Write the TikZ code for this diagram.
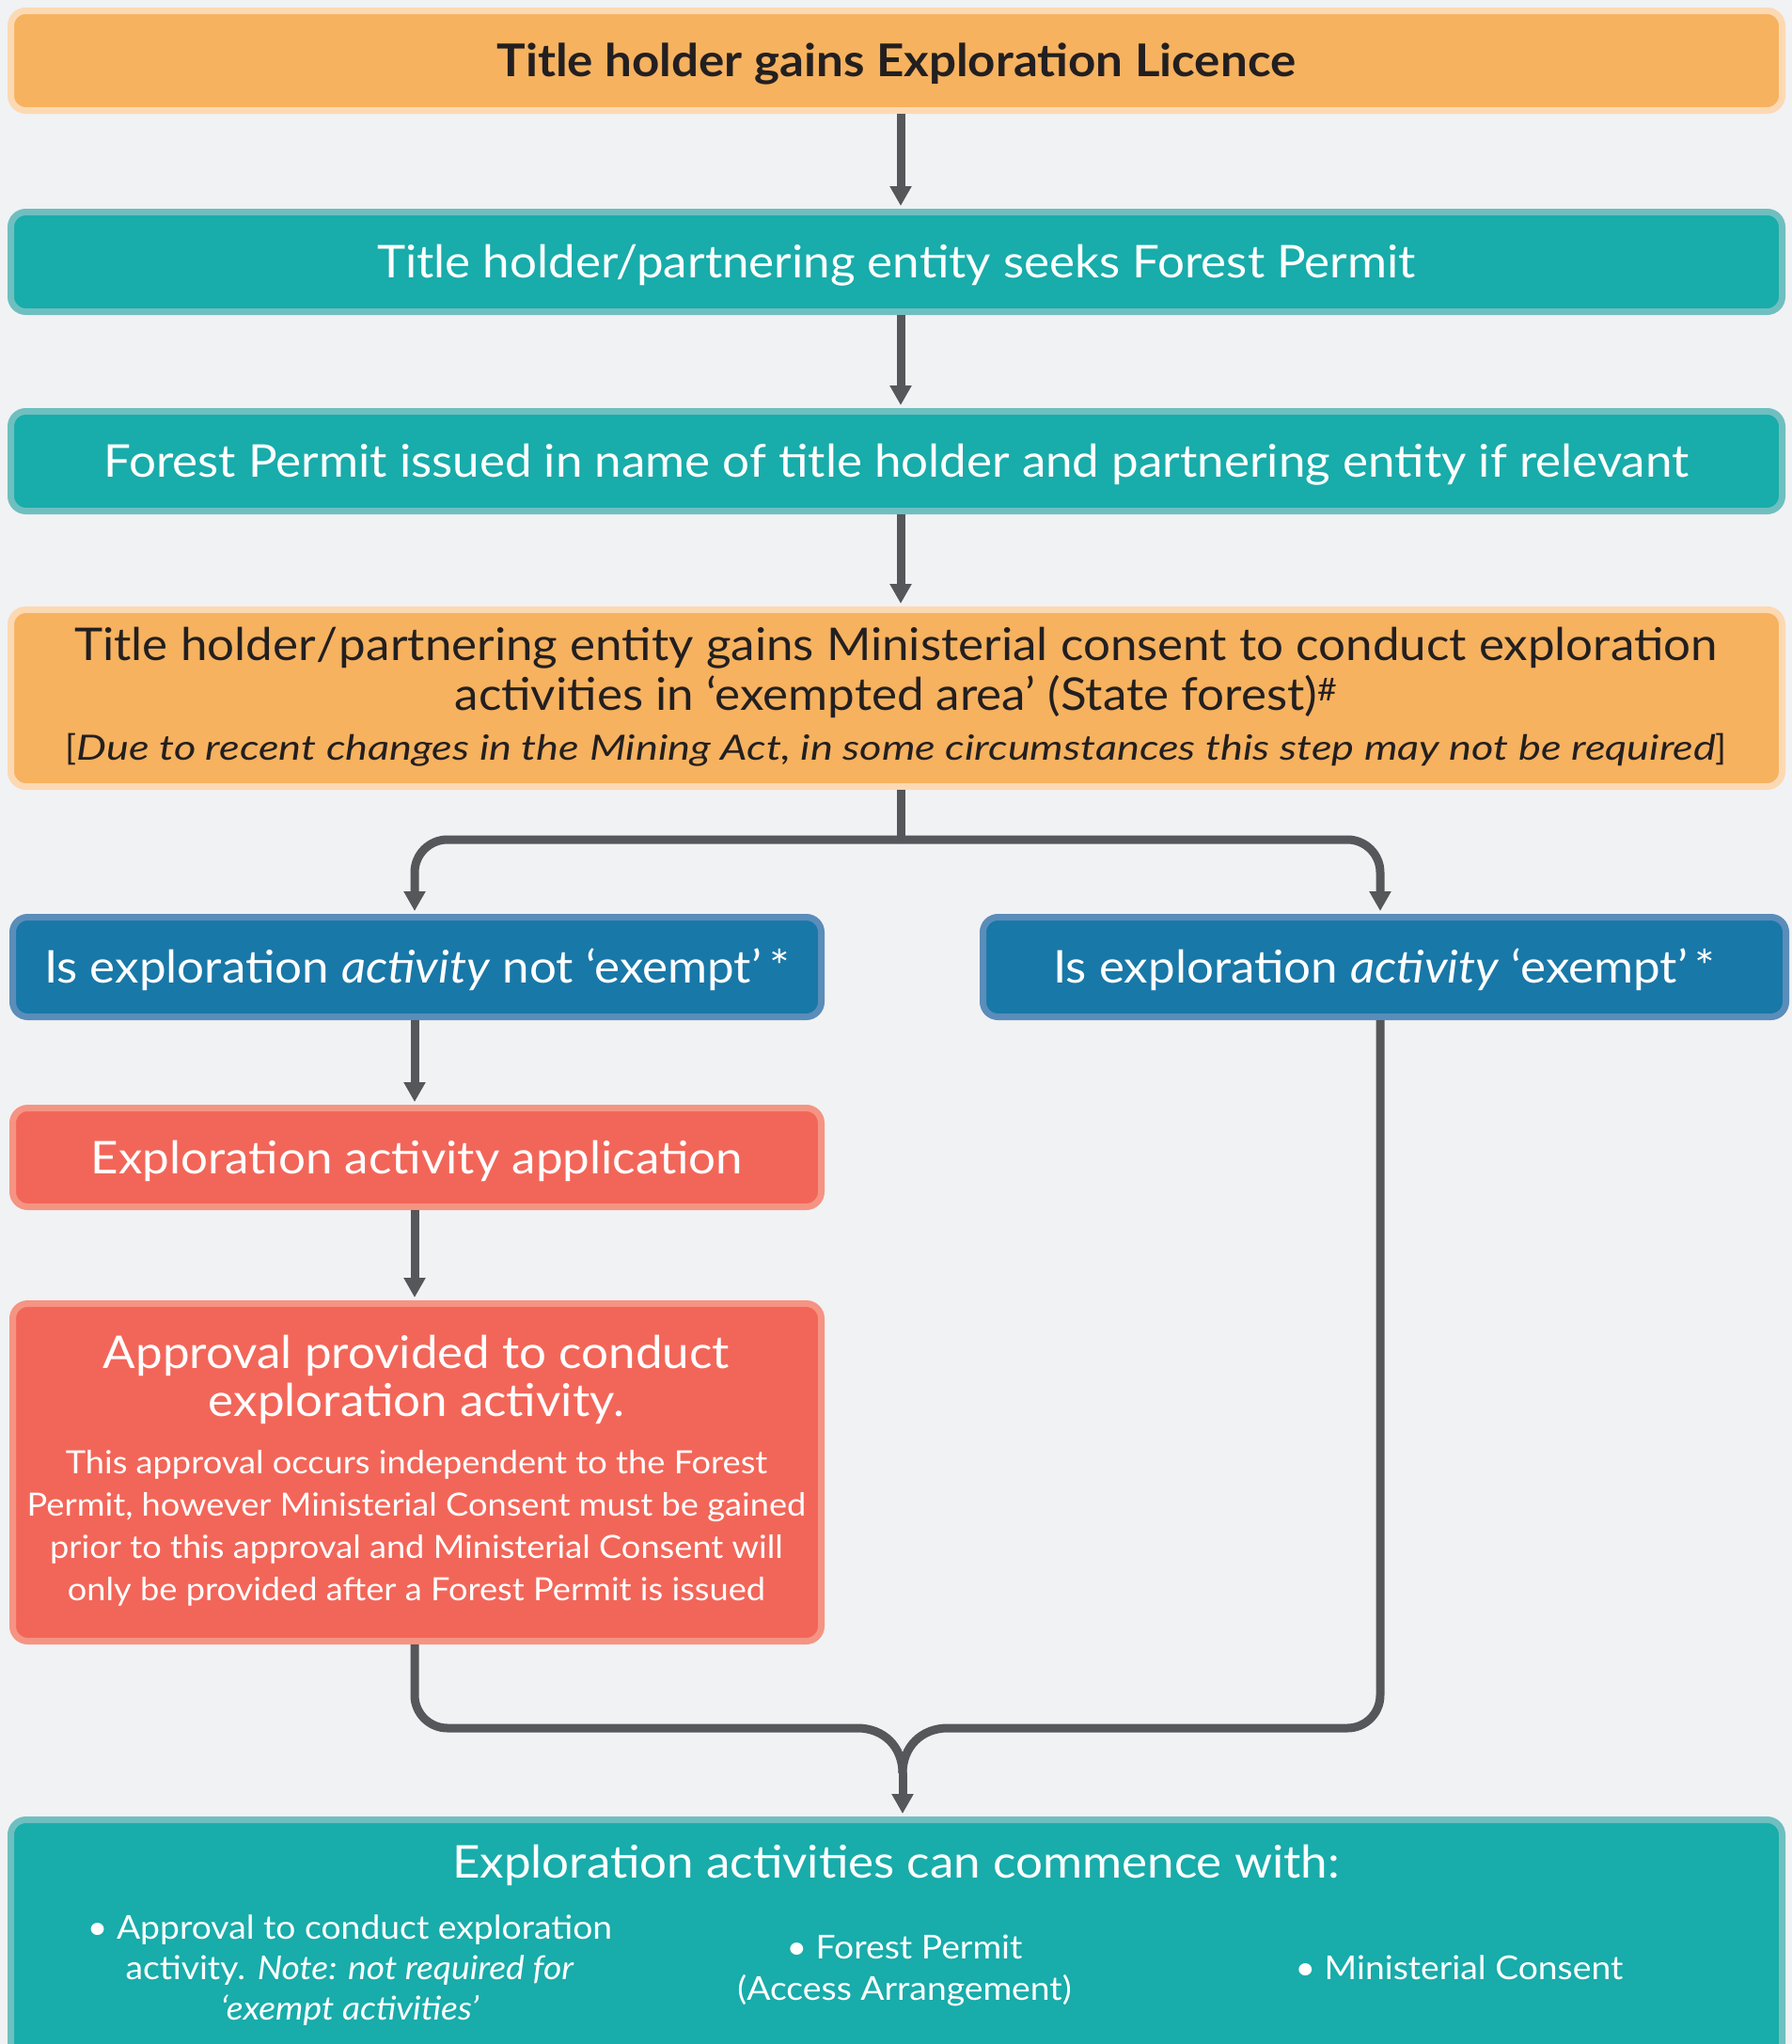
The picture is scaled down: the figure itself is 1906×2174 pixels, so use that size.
\documentclass[tikz,border=0pt]{standalone}
\usepackage{fontspec}
\setmainfont{Lato}[FakeStretch=1.065]
\newfontfamily\wideit{Lato Italic}[FakeStretch=1.22]
\usetikzlibrary{arrows.meta,calc}
\definecolor{bg}{HTML}{F1F2F4}
\definecolor{orfill}{HTML}{F6B25F}
\definecolor{ordraw}{HTML}{FCD9B3}
\definecolor{tlfill}{HTML}{18ACAA}
\definecolor{tldraw}{HTML}{6FBFC0}
\definecolor{blfill}{HTML}{1878A8}
\definecolor{bldraw}{HTML}{5A8DBA}
\definecolor{rdfill}{HTML}{F26659}
\definecolor{rddraw}{HTML}{F59483}
\definecolor{ln}{HTML}{55575A}
\definecolor{dark}{HTML}{231F20}
\begin{document}
\begin{tikzpicture}[x=1pt,y=-1pt,
  box/.style={rounded corners=16pt, line width=7pt, inner sep=0pt, align=center},
  orbox/.style={box, fill=orfill, draw=ordraw, text=dark},
  tlbox/.style={box, fill=tlfill, draw=tldraw, text=white},
  blbox/.style={box, fill=blfill, draw=bldraw, text=white},
  rdbox/.style={box, fill=rdfill, draw=rddraw, text=white},
  big/.style={font=\fontsize{48}{56}\selectfont, text height=34pt, text depth=0pt},
  txt/.style={inner sep=0pt, anchor=base, align=center},
  wtxt/.style={txt, text=white},
  otxt/.style={txt, text=dark},
  conn/.style={draw=ln, line width=9pt},
  arr/.style={conn, -{Triangle[width=22pt,length=21pt]}, shorten >=3pt},
]
\fill[bg] (0,0) rectangle (1906,2174);
\clip (0,0) rectangle (1906,2174);

\node[orbox, minimum width=1884pt, minimum height=106pt, font=\fontsize{48}{56}\selectfont\bfseries, text height=34pt, text depth=0pt] (b1) at (953.5,64.5) {Title holder gains Exploration Licence};
\node[tlbox, big, minimum width=1884pt, minimum height=106pt] (b2) at (953.5,278.5) {Title holder/partnering entity seeks Forest Permit};
\node[tlbox, big, minimum width=1884pt, minimum height=106pt] (b3) at (953.5,490.5) {Forest Permit issued in name of title holder and partnering entity if relevant};
\node[orbox, minimum width=1884pt, minimum height=188pt] (b4) at (953.5,742.5) {};
\node[otxt, font=\fontsize{48}{52}\selectfont] (t4a) at (953,702) {Title holder\kern1pt/\kern1pt partnering entity gains Ministerial consent to conduct exploration};
\node[otxt, font=\fontsize{48}{52}\selectfont] (t4b) at (953,755) {activities in ‘exempted area’ (State forest)\textsuperscript{\#}};
\node[otxt, font=\fontsize{37}{44}\selectfont] (t4c) at (953,808) {[{\wideit Due to recent changes in the Mining Act, in some circumstances this step may not be required}]};

\node[blbox, big, minimum width=860pt, minimum height=106pt] (b5) at (443.5,1028.5) {Is exploration \textit{activity} not ‘exempt’\,*};
\node[blbox, big, minimum width=854pt, minimum height=106pt] (b6) at (1472.5,1028.5) {Is exploration \textit{activity} ‘exempt’\,*};
\node[rdbox, big, minimum width=860pt, minimum height=105pt] (b7) at (443.5,1231) {Exploration activity application};
\node[rdbox, minimum width=860pt, minimum height=359pt] (b8) at (443.5,1566) {};
\node[wtxt, font=\fontsize{48}{56}\selectfont] (t8a) at (443,1455) {Approval provided to conduct};
\node[wtxt, font=\fontsize{48}{56}\selectfont] (t8b) at (443,1506) {exploration activity.};
\node[wtxt, font=\fontsize{34}{40}\selectfont] (t8c) at (443,1567) {This approval occurs independent to the Forest};
\node[wtxt, font=\fontsize{34}{40}\selectfont] (t8d) at (443,1612) {Permit, however Ministerial Consent must be gained};
\node[wtxt, font=\fontsize{34}{40}\selectfont] (t8e) at (443,1657) {prior to this approval and Ministerial Consent will};
\node[wtxt, font=\fontsize{34}{40}\selectfont] (t8f) at (443,1702) {only be provided after a Forest Permit is issued};

\node[tlbox, minimum width=1884pt, minimum height=265pt] (b9) at (953.5,2068) {};
\node[wtxt, font=\fontsize{48}{56}\selectfont] (t9) at (953,1997) {Exploration activities can commence with:};
\node[wtxt, font=\fontsize{35}{40}\selectfont] (t9a) at (372,2062) {\textbullet\ Approval to conduct exploration};
\node[wtxt, font=\fontsize{35}{40}\selectfont] (t9b) at (372,2105) {activity. \textit{Note: not required for}};
\node[wtxt, font=\fontsize{35}{40}\selectfont] (t9c) at (372,2148) {\textit{‘exempt activities’}};
\node[wtxt, font=\fontsize{35}{40}\selectfont] (t9d) at (962,2083) {\textbullet\ Forest Permit};
\node[wtxt, font=\fontsize{35}{40}\selectfont] (t9e) at (962,2127) {(Access Arrangement)};
\node[wtxt, font=\fontsize{35}{40}\selectfont] (t9f) at (1552,2105) {\textbullet\ Ministerial Consent};

\draw[arr] ([xshift=4.5pt]b1.south) -- ([xshift=4.5pt]b2.north);
\draw[arr] ([xshift=4.5pt]b2.south) -- ([xshift=4.5pt]b3.north);
\draw[arr] ([xshift=4.5pt]b3.south) -- ([xshift=4.5pt]b4.north);
\coordinate (j1) at (958,893);
\draw[conn] ([xshift=4.5pt]b4.south) -- (j1);
\draw[arr, rounded corners=35pt] (j1) -| ([xshift=-2.5pt]b5.north);
\draw[arr, rounded corners=35pt] (j1) -| ([xshift=-4.5pt]b6.north);
\draw[arr] ([xshift=-2.5pt]b5.south) -- ([xshift=-2.5pt]b7.north);
\draw[arr] ([xshift=-2.5pt]b7.south) -- ([xshift=-2.5pt]b8.north);
\coordinate (m) at (960,1886);
\coordinate (hl) at (912,1838);
\coordinate (hr) at (1008,1838);
\draw[conn, rounded corners=35pt] ([xshift=-2.5pt]b8.south) |- (hl);
\draw[conn, rounded corners=35pt] ([xshift=-4.5pt]b6.south) |- (hr);
\draw[conn] (hl) .. controls (940,1838) and (960,1858) .. (m);
\draw[conn] (hr) .. controls (980,1838) and (960,1858) .. (m);
\draw[arr] (m) -- ([xshift=6.5pt]b9.north);
\end{tikzpicture}
\end{document}
